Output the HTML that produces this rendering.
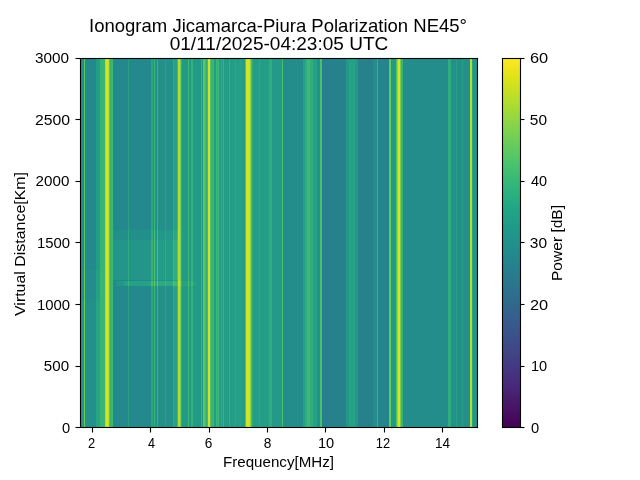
<!DOCTYPE html>
<html><head><meta charset="utf-8"><style>
html,body{margin:0;padding:0;background:#fff;width:640px;height:480px;overflow:hidden}
svg{display:block;will-change:transform}
text{font-family:"Liberation Sans", sans-serif;fill:#000}
</style></head><body>
<svg width="640" height="480" viewBox="0 0 640 480">
<defs><linearGradient id="cb" x1="0" y1="0" x2="0" y2="1"><stop offset="0.000" stop-color="#fde725"/><stop offset="0.050" stop-color="#dfe318"/><stop offset="0.100" stop-color="#bddf26"/><stop offset="0.150" stop-color="#9bd93c"/><stop offset="0.200" stop-color="#7ad151"/><stop offset="0.250" stop-color="#5ec962"/><stop offset="0.300" stop-color="#44bf70"/><stop offset="0.350" stop-color="#2fb47c"/><stop offset="0.400" stop-color="#22a884"/><stop offset="0.450" stop-color="#1e9c89"/><stop offset="0.500" stop-color="#21918c"/><stop offset="0.550" stop-color="#25848e"/><stop offset="0.600" stop-color="#2a788e"/><stop offset="0.650" stop-color="#2f6c8e"/><stop offset="0.700" stop-color="#355f8d"/><stop offset="0.750" stop-color="#3b528b"/><stop offset="0.800" stop-color="#414487"/><stop offset="0.850" stop-color="#463480"/><stop offset="0.900" stop-color="#482475"/><stop offset="0.950" stop-color="#471365"/><stop offset="1.000" stop-color="#440154"/></linearGradient></defs>
<rect x="0" y="0" width="640" height="480" fill="#fff"/>
<g shape-rendering="crispEdges"><rect x="81" y="59" width="1" height="211" fill="#238d8b"/><rect x="81" y="270" width="1" height="31" fill="#23918a"/><rect x="81" y="301" width="1" height="126" fill="#239589"/><rect x="82" y="59" width="1" height="211" fill="#238d8b"/><rect x="82" y="270" width="1" height="31" fill="#23918a"/><rect x="82" y="301" width="1" height="126" fill="#239589"/><rect x="83" y="59" width="1" height="211" fill="#238d8b"/><rect x="83" y="270" width="1" height="31" fill="#23918a"/><rect x="83" y="301" width="1" height="126" fill="#239589"/><rect x="84" y="59" width="1" height="211" fill="#5dc562"/><rect x="84" y="270" width="1" height="31" fill="#65c85d"/><rect x="84" y="301" width="1" height="126" fill="#6ecb57"/><rect x="85" y="59" width="1" height="211" fill="#24898c"/><rect x="85" y="270" width="1" height="31" fill="#238d8b"/><rect x="85" y="301" width="1" height="126" fill="#23918a"/><rect x="86" y="59" width="1" height="211" fill="#24898c"/><rect x="86" y="270" width="1" height="31" fill="#238d8b"/><rect x="86" y="301" width="1" height="126" fill="#23918a"/><rect x="87" y="59" width="1" height="211" fill="#24898c"/><rect x="87" y="270" width="1" height="31" fill="#238d8b"/><rect x="87" y="301" width="1" height="126" fill="#23918a"/><rect x="88" y="59" width="1" height="211" fill="#24898c"/><rect x="88" y="270" width="1" height="31" fill="#238d8b"/><rect x="88" y="301" width="1" height="126" fill="#23918a"/><rect x="89" y="59" width="1" height="211" fill="#24898c"/><rect x="89" y="270" width="1" height="31" fill="#238d8b"/><rect x="89" y="301" width="1" height="126" fill="#23918a"/><rect x="90" y="59" width="1" height="211" fill="#24898c"/><rect x="90" y="270" width="1" height="31" fill="#238d8b"/><rect x="90" y="301" width="1" height="126" fill="#23918a"/><rect x="91" y="59" width="1" height="211" fill="#24898c"/><rect x="91" y="270" width="1" height="31" fill="#238d8b"/><rect x="91" y="301" width="1" height="126" fill="#23918a"/><rect x="92" y="59" width="1" height="211" fill="#24898c"/><rect x="92" y="270" width="1" height="31" fill="#238d8b"/><rect x="92" y="301" width="1" height="126" fill="#23918a"/><rect x="93" y="59" width="1" height="211" fill="#24898c"/><rect x="93" y="270" width="1" height="31" fill="#238d8b"/><rect x="93" y="301" width="1" height="126" fill="#23918a"/><rect x="94" y="59" width="1" height="211" fill="#24898c"/><rect x="94" y="270" width="1" height="31" fill="#238d8b"/><rect x="94" y="301" width="1" height="126" fill="#23918a"/><rect x="95" y="59" width="1" height="211" fill="#24898c"/><rect x="95" y="270" width="1" height="31" fill="#238d8b"/><rect x="95" y="301" width="1" height="126" fill="#23918a"/><rect x="96" y="59" width="1" height="211" fill="#249d86"/><rect x="96" y="270" width="1" height="31" fill="#26a185"/><rect x="96" y="301" width="1" height="126" fill="#28a583"/><rect x="97" y="59" width="1" height="211" fill="#249d86"/><rect x="97" y="270" width="1" height="31" fill="#26a185"/><rect x="97" y="301" width="1" height="126" fill="#28a583"/><rect x="98" y="59" width="1" height="211" fill="#249d86"/><rect x="98" y="270" width="1" height="31" fill="#26a185"/><rect x="98" y="301" width="1" height="126" fill="#28a583"/><rect x="99" y="59" width="1" height="211" fill="#249d86"/><rect x="99" y="270" width="1" height="31" fill="#26a185"/><rect x="99" y="301" width="1" height="126" fill="#28a583"/><rect x="100" y="59" width="5" height="368" fill="#39b477"/><rect x="105" y="59" width="1" height="368" fill="#b6dc30"/><rect x="106" y="59" width="2" height="368" fill="#dae226"/><rect x="108" y="59" width="1" height="368" fill="#c0de2c"/><rect x="109" y="59" width="1" height="368" fill="#54c267"/><rect x="110" y="59" width="2" height="368" fill="#39b477"/><rect x="112" y="59" width="1" height="368" fill="#3fb874"/><rect x="113" y="59" width="1" height="171" fill="#24898c"/><rect x="113" y="230" width="1" height="10" fill="#238f8b"/><rect x="113" y="240" width="1" height="40" fill="#239589"/><rect x="113" y="280" width="1" height="147" fill="#24898c"/><rect x="114" y="59" width="1" height="171" fill="#24898c"/><rect x="114" y="230" width="1" height="10" fill="#238f8b"/><rect x="114" y="240" width="1" height="40" fill="#239589"/><rect x="114" y="280" width="1" height="147" fill="#24898c"/><rect x="115" y="59" width="1" height="171" fill="#24898c"/><rect x="115" y="230" width="1" height="10" fill="#238f8b"/><rect x="115" y="240" width="1" height="40" fill="#239589"/><rect x="115" y="280" width="1" height="147" fill="#24898c"/><rect x="116" y="59" width="1" height="171" fill="#24898c"/><rect x="116" y="230" width="1" height="10" fill="#238f8b"/><rect x="116" y="240" width="1" height="40" fill="#239589"/><rect x="116" y="280" width="1" height="1" fill="#24898c"/><rect x="116" y="281" width="1" height="5" fill="#239589"/><rect x="116" y="286" width="1" height="141" fill="#24898c"/><rect x="117" y="59" width="1" height="171" fill="#24898c"/><rect x="117" y="230" width="1" height="10" fill="#238f8b"/><rect x="117" y="240" width="1" height="40" fill="#239589"/><rect x="117" y="280" width="1" height="1" fill="#24898c"/><rect x="117" y="281" width="1" height="5" fill="#239589"/><rect x="117" y="286" width="1" height="141" fill="#24898c"/><rect x="118" y="59" width="1" height="171" fill="#24898c"/><rect x="118" y="230" width="1" height="10" fill="#238f8b"/><rect x="118" y="240" width="1" height="40" fill="#239589"/><rect x="118" y="280" width="1" height="1" fill="#24898c"/><rect x="118" y="281" width="1" height="5" fill="#239589"/><rect x="118" y="286" width="1" height="141" fill="#24898c"/><rect x="119" y="59" width="1" height="171" fill="#24898c"/><rect x="119" y="230" width="1" height="10" fill="#238f8b"/><rect x="119" y="240" width="1" height="40" fill="#239589"/><rect x="119" y="280" width="1" height="1" fill="#24898c"/><rect x="119" y="281" width="1" height="5" fill="#239589"/><rect x="119" y="286" width="1" height="141" fill="#24898c"/><rect x="120" y="59" width="1" height="171" fill="#24898c"/><rect x="120" y="230" width="1" height="10" fill="#238f8b"/><rect x="120" y="240" width="1" height="40" fill="#239589"/><rect x="120" y="280" width="1" height="1" fill="#24898c"/><rect x="120" y="281" width="1" height="5" fill="#239589"/><rect x="120" y="286" width="1" height="141" fill="#24898c"/><rect x="121" y="59" width="1" height="171" fill="#24898c"/><rect x="121" y="230" width="1" height="10" fill="#238f8b"/><rect x="121" y="240" width="1" height="40" fill="#239589"/><rect x="121" y="280" width="1" height="1" fill="#24898c"/><rect x="121" y="281" width="1" height="5" fill="#239589"/><rect x="121" y="286" width="1" height="141" fill="#24898c"/><rect x="122" y="59" width="1" height="171" fill="#24898c"/><rect x="122" y="230" width="1" height="10" fill="#238f8b"/><rect x="122" y="240" width="1" height="40" fill="#239589"/><rect x="122" y="280" width="1" height="1" fill="#24898c"/><rect x="122" y="281" width="1" height="5" fill="#239589"/><rect x="122" y="286" width="1" height="141" fill="#24898c"/><rect x="123" y="59" width="1" height="171" fill="#24898c"/><rect x="123" y="230" width="1" height="10" fill="#238f8b"/><rect x="123" y="240" width="1" height="40" fill="#239589"/><rect x="123" y="280" width="1" height="1" fill="#24898c"/><rect x="123" y="281" width="1" height="5" fill="#239589"/><rect x="123" y="286" width="1" height="141" fill="#24898c"/><rect x="124" y="59" width="1" height="171" fill="#24898c"/><rect x="124" y="230" width="1" height="10" fill="#238f8b"/><rect x="124" y="240" width="1" height="40" fill="#239589"/><rect x="124" y="280" width="1" height="1" fill="#24898c"/><rect x="124" y="281" width="1" height="5" fill="#26a185"/><rect x="124" y="286" width="1" height="141" fill="#24898c"/><rect x="125" y="59" width="1" height="171" fill="#24898c"/><rect x="125" y="230" width="1" height="10" fill="#238f8b"/><rect x="125" y="240" width="1" height="40" fill="#239589"/><rect x="125" y="280" width="1" height="1" fill="#24898c"/><rect x="125" y="281" width="1" height="5" fill="#26a185"/><rect x="125" y="286" width="1" height="141" fill="#24898c"/><rect x="126" y="59" width="1" height="171" fill="#24898c"/><rect x="126" y="230" width="1" height="10" fill="#238f8b"/><rect x="126" y="240" width="1" height="40" fill="#239589"/><rect x="126" y="280" width="1" height="1" fill="#24898c"/><rect x="126" y="281" width="1" height="5" fill="#26a185"/><rect x="126" y="286" width="1" height="141" fill="#24898c"/><rect x="127" y="59" width="1" height="171" fill="#24898c"/><rect x="127" y="230" width="1" height="10" fill="#238f8b"/><rect x="127" y="240" width="1" height="40" fill="#239589"/><rect x="127" y="280" width="1" height="1" fill="#24898c"/><rect x="127" y="281" width="1" height="5" fill="#26a185"/><rect x="127" y="286" width="1" height="141" fill="#24898c"/><rect x="128" y="59" width="1" height="171" fill="#26a185"/><rect x="128" y="230" width="1" height="10" fill="#2aa781"/><rect x="128" y="240" width="1" height="40" fill="#2fad7e"/><rect x="128" y="280" width="1" height="1" fill="#26a185"/><rect x="128" y="281" width="1" height="5" fill="#3fb874"/><rect x="128" y="286" width="1" height="141" fill="#26a185"/><rect x="129" y="59" width="1" height="171" fill="#24898c"/><rect x="129" y="230" width="1" height="10" fill="#238f8b"/><rect x="129" y="240" width="1" height="40" fill="#239589"/><rect x="129" y="280" width="1" height="1" fill="#24898c"/><rect x="129" y="281" width="1" height="5" fill="#26a185"/><rect x="129" y="286" width="1" height="141" fill="#24898c"/><rect x="130" y="59" width="1" height="171" fill="#24898c"/><rect x="130" y="230" width="1" height="10" fill="#238f8b"/><rect x="130" y="240" width="1" height="40" fill="#239589"/><rect x="130" y="280" width="1" height="1" fill="#24898c"/><rect x="130" y="281" width="1" height="5" fill="#26a185"/><rect x="130" y="286" width="1" height="141" fill="#24898c"/><rect x="131" y="59" width="1" height="171" fill="#24898c"/><rect x="131" y="230" width="1" height="10" fill="#238f8b"/><rect x="131" y="240" width="1" height="40" fill="#239589"/><rect x="131" y="280" width="1" height="1" fill="#24898c"/><rect x="131" y="281" width="1" height="5" fill="#26a185"/><rect x="131" y="286" width="1" height="141" fill="#24898c"/><rect x="132" y="59" width="1" height="171" fill="#24898c"/><rect x="132" y="230" width="1" height="10" fill="#238f8b"/><rect x="132" y="240" width="1" height="40" fill="#239589"/><rect x="132" y="280" width="1" height="1" fill="#24898c"/><rect x="132" y="281" width="1" height="5" fill="#26a185"/><rect x="132" y="286" width="1" height="141" fill="#24898c"/><rect x="133" y="59" width="1" height="171" fill="#24898c"/><rect x="133" y="230" width="1" height="10" fill="#238f8b"/><rect x="133" y="240" width="1" height="40" fill="#239589"/><rect x="133" y="280" width="1" height="1" fill="#24898c"/><rect x="133" y="281" width="1" height="5" fill="#26a185"/><rect x="133" y="286" width="1" height="141" fill="#24898c"/><rect x="134" y="59" width="1" height="171" fill="#24898c"/><rect x="134" y="230" width="1" height="10" fill="#238f8b"/><rect x="134" y="240" width="1" height="40" fill="#239589"/><rect x="134" y="280" width="1" height="1" fill="#24898c"/><rect x="134" y="281" width="1" height="5" fill="#26a185"/><rect x="134" y="286" width="1" height="141" fill="#24898c"/><rect x="135" y="59" width="1" height="171" fill="#24898c"/><rect x="135" y="230" width="1" height="10" fill="#238f8b"/><rect x="135" y="240" width="1" height="40" fill="#239589"/><rect x="135" y="280" width="1" height="1" fill="#24898c"/><rect x="135" y="281" width="1" height="5" fill="#26a185"/><rect x="135" y="286" width="1" height="141" fill="#24898c"/><rect x="136" y="59" width="1" height="171" fill="#24898c"/><rect x="136" y="230" width="1" height="10" fill="#238f8b"/><rect x="136" y="240" width="1" height="40" fill="#239589"/><rect x="136" y="280" width="1" height="1" fill="#24898c"/><rect x="136" y="281" width="1" height="5" fill="#26a185"/><rect x="136" y="286" width="1" height="141" fill="#24898c"/><rect x="137" y="59" width="1" height="171" fill="#24898c"/><rect x="137" y="230" width="1" height="10" fill="#238f8b"/><rect x="137" y="240" width="1" height="40" fill="#239589"/><rect x="137" y="280" width="1" height="1" fill="#24898c"/><rect x="137" y="281" width="1" height="5" fill="#26a185"/><rect x="137" y="286" width="1" height="141" fill="#24898c"/><rect x="138" y="59" width="1" height="171" fill="#24898c"/><rect x="138" y="230" width="1" height="10" fill="#238f8b"/><rect x="138" y="240" width="1" height="40" fill="#239589"/><rect x="138" y="280" width="1" height="1" fill="#24898c"/><rect x="138" y="281" width="1" height="5" fill="#26a185"/><rect x="138" y="286" width="1" height="141" fill="#24898c"/><rect x="139" y="59" width="1" height="171" fill="#24898c"/><rect x="139" y="230" width="1" height="10" fill="#238f8b"/><rect x="139" y="240" width="1" height="40" fill="#239589"/><rect x="139" y="280" width="1" height="1" fill="#24898c"/><rect x="139" y="281" width="1" height="5" fill="#26a185"/><rect x="139" y="286" width="1" height="141" fill="#24898c"/><rect x="140" y="59" width="1" height="171" fill="#24898c"/><rect x="140" y="230" width="1" height="10" fill="#238f8b"/><rect x="140" y="240" width="1" height="40" fill="#239589"/><rect x="140" y="280" width="1" height="1" fill="#24898c"/><rect x="140" y="281" width="1" height="5" fill="#26a185"/><rect x="140" y="286" width="1" height="141" fill="#24898c"/><rect x="141" y="59" width="1" height="171" fill="#24898c"/><rect x="141" y="230" width="1" height="10" fill="#238f8b"/><rect x="141" y="240" width="1" height="40" fill="#239589"/><rect x="141" y="280" width="1" height="1" fill="#24898c"/><rect x="141" y="281" width="1" height="5" fill="#26a185"/><rect x="141" y="286" width="1" height="141" fill="#24898c"/><rect x="142" y="59" width="1" height="171" fill="#24898c"/><rect x="142" y="230" width="1" height="10" fill="#238f8b"/><rect x="142" y="240" width="1" height="40" fill="#239589"/><rect x="142" y="280" width="1" height="1" fill="#24898c"/><rect x="142" y="281" width="1" height="5" fill="#26a185"/><rect x="142" y="286" width="1" height="141" fill="#24898c"/><rect x="143" y="59" width="1" height="171" fill="#24898c"/><rect x="143" y="230" width="1" height="10" fill="#238f8b"/><rect x="143" y="240" width="1" height="40" fill="#239589"/><rect x="143" y="280" width="1" height="1" fill="#24898c"/><rect x="143" y="281" width="1" height="5" fill="#26a185"/><rect x="143" y="286" width="1" height="141" fill="#24898c"/><rect x="144" y="59" width="1" height="171" fill="#24898c"/><rect x="144" y="230" width="1" height="10" fill="#238f8b"/><rect x="144" y="240" width="1" height="40" fill="#239589"/><rect x="144" y="280" width="1" height="1" fill="#24898c"/><rect x="144" y="281" width="1" height="5" fill="#26a185"/><rect x="144" y="286" width="1" height="141" fill="#24898c"/><rect x="145" y="59" width="1" height="171" fill="#24898c"/><rect x="145" y="230" width="1" height="10" fill="#238f8b"/><rect x="145" y="240" width="1" height="40" fill="#239589"/><rect x="145" y="280" width="1" height="1" fill="#24898c"/><rect x="145" y="281" width="1" height="5" fill="#26a185"/><rect x="145" y="286" width="1" height="141" fill="#24898c"/><rect x="146" y="59" width="1" height="171" fill="#24898c"/><rect x="146" y="230" width="1" height="10" fill="#238f8b"/><rect x="146" y="240" width="1" height="40" fill="#239589"/><rect x="146" y="280" width="1" height="1" fill="#24898c"/><rect x="146" y="281" width="1" height="5" fill="#26a185"/><rect x="146" y="286" width="1" height="141" fill="#24898c"/><rect x="147" y="59" width="1" height="171" fill="#24898c"/><rect x="147" y="230" width="1" height="10" fill="#238f8b"/><rect x="147" y="240" width="1" height="40" fill="#239589"/><rect x="147" y="280" width="1" height="1" fill="#24898c"/><rect x="147" y="281" width="1" height="5" fill="#26a185"/><rect x="147" y="286" width="1" height="141" fill="#24898c"/><rect x="148" y="59" width="1" height="171" fill="#24898c"/><rect x="148" y="230" width="1" height="10" fill="#238f8b"/><rect x="148" y="240" width="1" height="40" fill="#239589"/><rect x="148" y="280" width="1" height="1" fill="#24898c"/><rect x="148" y="281" width="1" height="5" fill="#26a185"/><rect x="148" y="286" width="1" height="141" fill="#24898c"/><rect x="149" y="59" width="1" height="171" fill="#24898c"/><rect x="149" y="230" width="1" height="10" fill="#238f8b"/><rect x="149" y="240" width="1" height="40" fill="#239589"/><rect x="149" y="280" width="1" height="1" fill="#24898c"/><rect x="149" y="281" width="1" height="5" fill="#26a185"/><rect x="149" y="286" width="1" height="141" fill="#24898c"/><rect x="150" y="59" width="1" height="171" fill="#24898c"/><rect x="150" y="230" width="1" height="10" fill="#238f8b"/><rect x="150" y="240" width="1" height="40" fill="#239589"/><rect x="150" y="280" width="1" height="1" fill="#24898c"/><rect x="150" y="281" width="1" height="5" fill="#26a185"/><rect x="150" y="286" width="1" height="141" fill="#24898c"/><rect x="151" y="59" width="1" height="171" fill="#28a583"/><rect x="151" y="230" width="1" height="10" fill="#2dab7f"/><rect x="151" y="240" width="1" height="40" fill="#34b17b"/><rect x="151" y="280" width="1" height="1" fill="#28a583"/><rect x="151" y="281" width="1" height="5" fill="#46bb70"/><rect x="151" y="286" width="1" height="141" fill="#28a583"/><rect x="152" y="59" width="1" height="171" fill="#28a583"/><rect x="152" y="230" width="1" height="10" fill="#2dab7f"/><rect x="152" y="240" width="1" height="40" fill="#34b17b"/><rect x="152" y="280" width="1" height="1" fill="#28a583"/><rect x="152" y="281" width="1" height="5" fill="#46bb70"/><rect x="152" y="286" width="1" height="141" fill="#28a583"/><rect x="153" y="59" width="1" height="171" fill="#23918a"/><rect x="153" y="230" width="1" height="10" fill="#239789"/><rect x="153" y="240" width="1" height="40" fill="#249d86"/><rect x="153" y="280" width="1" height="1" fill="#23918a"/><rect x="153" y="281" width="1" height="5" fill="#2ca980"/><rect x="153" y="286" width="1" height="141" fill="#23918a"/><rect x="154" y="59" width="1" height="171" fill="#39b477"/><rect x="154" y="230" width="1" height="10" fill="#42ba72"/><rect x="154" y="240" width="1" height="40" fill="#4dbf6c"/><rect x="154" y="280" width="1" height="1" fill="#39b477"/><rect x="154" y="281" width="1" height="5" fill="#65c85d"/><rect x="154" y="286" width="1" height="141" fill="#39b477"/><rect x="155" y="59" width="1" height="171" fill="#23918a"/><rect x="155" y="230" width="1" height="10" fill="#239789"/><rect x="155" y="240" width="1" height="40" fill="#249d86"/><rect x="155" y="280" width="1" height="1" fill="#23918a"/><rect x="155" y="281" width="1" height="5" fill="#2ca980"/><rect x="155" y="286" width="1" height="141" fill="#23918a"/><rect x="156" y="59" width="1" height="171" fill="#23918a"/><rect x="156" y="230" width="1" height="10" fill="#239789"/><rect x="156" y="240" width="1" height="40" fill="#249d86"/><rect x="156" y="280" width="1" height="1" fill="#23918a"/><rect x="156" y="281" width="1" height="5" fill="#2ca980"/><rect x="156" y="286" width="1" height="141" fill="#23918a"/><rect x="157" y="59" width="1" height="171" fill="#39b477"/><rect x="157" y="230" width="1" height="10" fill="#42ba72"/><rect x="157" y="240" width="1" height="40" fill="#4dbf6c"/><rect x="157" y="280" width="1" height="1" fill="#39b477"/><rect x="157" y="281" width="1" height="5" fill="#65c85d"/><rect x="157" y="286" width="1" height="141" fill="#39b477"/><rect x="158" y="59" width="1" height="171" fill="#23918a"/><rect x="158" y="230" width="1" height="10" fill="#239789"/><rect x="158" y="240" width="1" height="40" fill="#249d86"/><rect x="158" y="280" width="1" height="1" fill="#23918a"/><rect x="158" y="281" width="1" height="5" fill="#2ca980"/><rect x="158" y="286" width="1" height="141" fill="#23918a"/><rect x="159" y="59" width="1" height="171" fill="#23918a"/><rect x="159" y="230" width="1" height="10" fill="#239789"/><rect x="159" y="240" width="1" height="40" fill="#249d86"/><rect x="159" y="280" width="1" height="1" fill="#23918a"/><rect x="159" y="281" width="1" height="5" fill="#2ca980"/><rect x="159" y="286" width="1" height="141" fill="#23918a"/><rect x="160" y="59" width="1" height="171" fill="#23918a"/><rect x="160" y="230" width="1" height="10" fill="#239789"/><rect x="160" y="240" width="1" height="40" fill="#249d86"/><rect x="160" y="280" width="1" height="1" fill="#23918a"/><rect x="160" y="281" width="1" height="5" fill="#2ca980"/><rect x="160" y="286" width="1" height="141" fill="#23918a"/><rect x="161" y="59" width="1" height="171" fill="#23918a"/><rect x="161" y="230" width="1" height="10" fill="#239789"/><rect x="161" y="240" width="1" height="40" fill="#249d86"/><rect x="161" y="280" width="1" height="1" fill="#23918a"/><rect x="161" y="281" width="1" height="5" fill="#2ca980"/><rect x="161" y="286" width="1" height="141" fill="#23918a"/><rect x="162" y="59" width="1" height="171" fill="#23918a"/><rect x="162" y="230" width="1" height="10" fill="#239789"/><rect x="162" y="240" width="1" height="40" fill="#249d86"/><rect x="162" y="280" width="1" height="1" fill="#23918a"/><rect x="162" y="281" width="1" height="5" fill="#2ca980"/><rect x="162" y="286" width="1" height="141" fill="#23918a"/><rect x="163" y="59" width="1" height="171" fill="#23918a"/><rect x="163" y="230" width="1" height="10" fill="#239789"/><rect x="163" y="240" width="1" height="40" fill="#249d86"/><rect x="163" y="280" width="1" height="1" fill="#23918a"/><rect x="163" y="281" width="1" height="5" fill="#2ca980"/><rect x="163" y="286" width="1" height="141" fill="#23918a"/><rect x="164" y="59" width="1" height="171" fill="#23918a"/><rect x="164" y="230" width="1" height="10" fill="#239789"/><rect x="164" y="240" width="1" height="40" fill="#249d86"/><rect x="164" y="280" width="1" height="1" fill="#23918a"/><rect x="164" y="281" width="1" height="5" fill="#2ca980"/><rect x="164" y="286" width="1" height="141" fill="#23918a"/><rect x="165" y="59" width="1" height="171" fill="#26a185"/><rect x="165" y="230" width="1" height="10" fill="#2aa781"/><rect x="165" y="240" width="1" height="40" fill="#2fad7e"/><rect x="165" y="280" width="1" height="1" fill="#26a185"/><rect x="165" y="281" width="1" height="5" fill="#3fb874"/><rect x="165" y="286" width="1" height="141" fill="#26a185"/><rect x="166" y="59" width="1" height="171" fill="#23918a"/><rect x="166" y="230" width="1" height="10" fill="#239789"/><rect x="166" y="240" width="1" height="40" fill="#249d86"/><rect x="166" y="280" width="1" height="1" fill="#23918a"/><rect x="166" y="281" width="1" height="5" fill="#2ca980"/><rect x="166" y="286" width="1" height="141" fill="#23918a"/><rect x="167" y="59" width="1" height="171" fill="#23918a"/><rect x="167" y="230" width="1" height="10" fill="#239789"/><rect x="167" y="240" width="1" height="40" fill="#249d86"/><rect x="167" y="280" width="1" height="1" fill="#23918a"/><rect x="167" y="281" width="1" height="5" fill="#2ca980"/><rect x="167" y="286" width="1" height="141" fill="#23918a"/><rect x="168" y="59" width="1" height="171" fill="#23918a"/><rect x="168" y="230" width="1" height="10" fill="#239789"/><rect x="168" y="240" width="1" height="40" fill="#249d86"/><rect x="168" y="280" width="1" height="1" fill="#23918a"/><rect x="168" y="281" width="1" height="5" fill="#2ca980"/><rect x="168" y="286" width="1" height="141" fill="#23918a"/><rect x="169" y="59" width="1" height="171" fill="#23918a"/><rect x="169" y="230" width="1" height="10" fill="#239789"/><rect x="169" y="240" width="1" height="40" fill="#249d86"/><rect x="169" y="280" width="1" height="1" fill="#23918a"/><rect x="169" y="281" width="1" height="5" fill="#2ca980"/><rect x="169" y="286" width="1" height="141" fill="#23918a"/><rect x="170" y="59" width="1" height="171" fill="#23918a"/><rect x="170" y="230" width="1" height="10" fill="#239789"/><rect x="170" y="240" width="1" height="40" fill="#249d86"/><rect x="170" y="280" width="1" height="1" fill="#23918a"/><rect x="170" y="281" width="1" height="5" fill="#2ca980"/><rect x="170" y="286" width="1" height="141" fill="#23918a"/><rect x="171" y="59" width="1" height="171" fill="#23918a"/><rect x="171" y="230" width="1" height="10" fill="#239789"/><rect x="171" y="240" width="1" height="40" fill="#249d86"/><rect x="171" y="280" width="1" height="1" fill="#23918a"/><rect x="171" y="281" width="1" height="5" fill="#2ca980"/><rect x="171" y="286" width="1" height="141" fill="#23918a"/><rect x="172" y="59" width="1" height="171" fill="#23918a"/><rect x="172" y="230" width="1" height="10" fill="#239789"/><rect x="172" y="240" width="1" height="40" fill="#249d86"/><rect x="172" y="280" width="1" height="1" fill="#23918a"/><rect x="172" y="281" width="1" height="5" fill="#2ca980"/><rect x="172" y="286" width="1" height="141" fill="#23918a"/><rect x="173" y="59" width="1" height="171" fill="#2fad7e"/><rect x="173" y="230" width="1" height="10" fill="#36b279"/><rect x="173" y="240" width="1" height="40" fill="#3fb874"/><rect x="173" y="280" width="1" height="1" fill="#2fad7e"/><rect x="173" y="281" width="1" height="5" fill="#54c267"/><rect x="173" y="286" width="1" height="141" fill="#2fad7e"/><rect x="174" y="59" width="1" height="171" fill="#26a185"/><rect x="174" y="230" width="1" height="10" fill="#2aa781"/><rect x="174" y="240" width="1" height="40" fill="#2fad7e"/><rect x="174" y="280" width="1" height="1" fill="#26a185"/><rect x="174" y="281" width="1" height="5" fill="#3fb874"/><rect x="174" y="286" width="1" height="141" fill="#26a185"/><rect x="175" y="59" width="1" height="171" fill="#26a185"/><rect x="175" y="230" width="1" height="10" fill="#2aa781"/><rect x="175" y="240" width="1" height="40" fill="#2fad7e"/><rect x="175" y="280" width="1" height="1" fill="#26a185"/><rect x="175" y="281" width="1" height="5" fill="#3fb874"/><rect x="175" y="286" width="1" height="141" fill="#26a185"/><rect x="176" y="59" width="1" height="171" fill="#26a185"/><rect x="176" y="230" width="1" height="10" fill="#2aa781"/><rect x="176" y="240" width="1" height="40" fill="#2fad7e"/><rect x="176" y="280" width="1" height="1" fill="#26a185"/><rect x="176" y="281" width="1" height="5" fill="#3fb874"/><rect x="176" y="286" width="1" height="141" fill="#26a185"/><rect x="177" y="59" width="1" height="171" fill="#3fb874"/><rect x="177" y="230" width="1" height="10" fill="#49bd6e"/><rect x="177" y="240" width="1" height="40" fill="#54c267"/><rect x="177" y="280" width="1" height="1" fill="#3fb874"/><rect x="177" y="281" width="1" height="5" fill="#4dbf6c"/><rect x="177" y="286" width="1" height="141" fill="#3fb874"/><rect x="178" y="59" width="1" height="222" fill="#b6dc30"/><rect x="178" y="281" width="1" height="5" fill="#cadf2a"/><rect x="178" y="286" width="1" height="141" fill="#b6dc30"/><rect x="179" y="59" width="1" height="222" fill="#b6dc30"/><rect x="179" y="281" width="1" height="5" fill="#cadf2a"/><rect x="179" y="286" width="1" height="141" fill="#b6dc30"/><rect x="180" y="59" width="1" height="222" fill="#78ce52"/><rect x="180" y="281" width="1" height="5" fill="#8cd345"/><rect x="180" y="286" width="1" height="141" fill="#78ce52"/><rect x="181" y="59" width="1" height="222" fill="#2fad7e"/><rect x="181" y="281" width="1" height="5" fill="#39b477"/><rect x="181" y="286" width="1" height="141" fill="#2fad7e"/><rect x="182" y="59" width="1" height="222" fill="#239988"/><rect x="182" y="281" width="1" height="5" fill="#26a185"/><rect x="182" y="286" width="1" height="141" fill="#239988"/><rect x="183" y="59" width="1" height="222" fill="#239988"/><rect x="183" y="281" width="1" height="5" fill="#26a185"/><rect x="183" y="286" width="1" height="141" fill="#239988"/><rect x="184" y="59" width="1" height="222" fill="#239988"/><rect x="184" y="281" width="1" height="5" fill="#26a185"/><rect x="184" y="286" width="1" height="141" fill="#239988"/><rect x="185" y="59" width="1" height="222" fill="#239988"/><rect x="185" y="281" width="1" height="5" fill="#26a185"/><rect x="185" y="286" width="1" height="141" fill="#239988"/><rect x="186" y="59" width="1" height="222" fill="#239988"/><rect x="186" y="281" width="1" height="5" fill="#26a185"/><rect x="186" y="286" width="1" height="141" fill="#239988"/><rect x="187" y="59" width="1" height="222" fill="#239988"/><rect x="187" y="281" width="1" height="5" fill="#26a185"/><rect x="187" y="286" width="1" height="141" fill="#239988"/><rect x="188" y="59" width="1" height="222" fill="#3fb874"/><rect x="188" y="281" width="1" height="5" fill="#4dbf6c"/><rect x="188" y="286" width="1" height="141" fill="#3fb874"/><rect x="189" y="59" width="1" height="222" fill="#239988"/><rect x="189" y="281" width="1" height="5" fill="#26a185"/><rect x="189" y="286" width="1" height="141" fill="#239988"/><rect x="190" y="59" width="1" height="222" fill="#239988"/><rect x="190" y="281" width="1" height="5" fill="#26a185"/><rect x="190" y="286" width="1" height="141" fill="#239988"/><rect x="191" y="59" width="1" height="222" fill="#34b17b"/><rect x="191" y="281" width="1" height="5" fill="#3fb874"/><rect x="191" y="286" width="1" height="141" fill="#34b17b"/><rect x="192" y="59" width="1" height="222" fill="#34b17b"/><rect x="192" y="281" width="1" height="5" fill="#3fb874"/><rect x="192" y="286" width="1" height="141" fill="#34b17b"/><rect x="193" y="59" width="1" height="222" fill="#239988"/><rect x="193" y="281" width="1" height="5" fill="#26a185"/><rect x="193" y="286" width="1" height="141" fill="#239988"/><rect x="194" y="59" width="1" height="222" fill="#239988"/><rect x="194" y="281" width="1" height="5" fill="#26a185"/><rect x="194" y="286" width="1" height="141" fill="#239988"/><rect x="195" y="59" width="1" height="222" fill="#239988"/><rect x="195" y="281" width="1" height="5" fill="#26a185"/><rect x="195" y="286" width="1" height="141" fill="#239988"/><rect x="196" y="59" width="5" height="368" fill="#239988"/><rect x="201" y="59" width="1" height="368" fill="#39b477"/><rect x="202" y="59" width="1" height="368" fill="#249d86"/><rect x="203" y="59" width="2" height="368" fill="#5dc562"/><rect x="205" y="59" width="1" height="368" fill="#46bb70"/><rect x="206" y="59" width="1" height="368" fill="#2fad7e"/><rect x="207" y="59" width="1" height="368" fill="#46bb70"/><rect x="208" y="59" width="2" height="368" fill="#d3e128"/><rect x="210" y="59" width="1" height="368" fill="#54c267"/><rect x="211" y="59" width="3" height="368" fill="#39b477"/><rect x="214" y="59" width="2" height="368" fill="#249d86"/><rect x="216" y="59" width="3" height="368" fill="#39b477"/><rect x="219" y="59" width="2" height="368" fill="#249d86"/><rect x="221" y="59" width="1" height="368" fill="#2fad7e"/><rect x="222" y="59" width="1" height="368" fill="#249d86"/><rect x="223" y="59" width="1" height="368" fill="#39b477"/><rect x="224" y="59" width="5" height="368" fill="#249d86"/><rect x="229" y="59" width="1" height="368" fill="#34b17b"/><rect x="230" y="59" width="5" height="368" fill="#249d86"/><rect x="235" y="59" width="1" height="368" fill="#2ca980"/><rect x="236" y="59" width="2" height="368" fill="#249d86"/><rect x="238" y="59" width="4" height="368" fill="#26a185"/><rect x="242" y="59" width="3" height="368" fill="#249d86"/><rect x="245" y="59" width="1" height="368" fill="#54c267"/><rect x="246" y="59" width="4" height="368" fill="#d3e128"/><rect x="250" y="59" width="1" height="368" fill="#8cd345"/><rect x="251" y="59" width="1" height="368" fill="#46bb70"/><rect x="252" y="59" width="1" height="368" fill="#2fad7e"/><rect x="253" y="59" width="6" height="368" fill="#249d86"/><rect x="259" y="59" width="1" height="368" fill="#2ca980"/><rect x="260" y="59" width="9" height="368" fill="#249d86"/><rect x="269" y="59" width="3" height="368" fill="#2fad7e"/><rect x="272" y="59" width="10" height="368" fill="#239988"/><rect x="282" y="59" width="1" height="368" fill="#4dbf6c"/><rect x="283" y="59" width="20" height="368" fill="#238d8b"/><rect x="303" y="59" width="2" height="368" fill="#26a185"/><rect x="305" y="59" width="2" height="368" fill="#2fad7e"/><rect x="307" y="59" width="3" height="368" fill="#3fb874"/><rect x="310" y="59" width="3" height="368" fill="#2fad7e"/><rect x="313" y="59" width="4" height="368" fill="#26a185"/><rect x="317" y="59" width="3" height="368" fill="#23918a"/><rect x="320" y="59" width="2" height="368" fill="#4dbf6c"/><rect x="322" y="59" width="24" height="368" fill="#27818d"/><rect x="346" y="59" width="3" height="368" fill="#239988"/><rect x="349" y="59" width="6" height="368" fill="#26a185"/><rect x="355" y="59" width="3" height="368" fill="#239988"/><rect x="358" y="59" width="15" height="368" fill="#27818d"/><rect x="373" y="59" width="4" height="368" fill="#238d8b"/><rect x="377" y="59" width="1" height="368" fill="#39b477"/><rect x="378" y="59" width="11" height="368" fill="#25858d"/><rect x="389" y="59" width="2" height="368" fill="#65c85d"/><rect x="391" y="59" width="5" height="368" fill="#239988"/><rect x="396" y="59" width="1" height="368" fill="#54c267"/><rect x="397" y="59" width="1" height="368" fill="#8cd345"/><rect x="398" y="59" width="2" height="368" fill="#dae226"/><rect x="400" y="59" width="1" height="368" fill="#78ce52"/><rect x="401" y="59" width="2" height="368" fill="#39b477"/><rect x="403" y="59" width="45" height="368" fill="#238d8b"/><rect x="448" y="59" width="3" height="368" fill="#2fad7e"/><rect x="451" y="59" width="5" height="368" fill="#23918a"/><rect x="456" y="59" width="1" height="368" fill="#26a185"/><rect x="457" y="59" width="5" height="368" fill="#23918a"/><rect x="462" y="59" width="1" height="368" fill="#26a185"/><rect x="463" y="59" width="7" height="368" fill="#23918a"/><rect x="470" y="59" width="2" height="368" fill="#b6dc30"/><rect x="472" y="59" width="1" height="368" fill="#28a583"/><rect x="473" y="59" width="4" height="368" fill="#239589"/></g>
<rect x="503" y="59" width="17" height="368" fill="url(#cb)" shape-rendering="crispEdges"/>
<g fill="none" stroke="#000" stroke-width="1.1">
<rect x="80.5" y="58.5" width="397" height="369"/>
<rect x="502.5" y="58.5" width="18" height="369"/>
<line x1="75.5" y1="427.5" x2="80" y2="427.5"/><line x1="520" y1="427.5" x2="524.5" y2="427.5"/><line x1="75.5" y1="366.5" x2="80" y2="366.5"/><line x1="520" y1="366.5" x2="524.5" y2="366.5"/><line x1="75.5" y1="304.5" x2="80" y2="304.5"/><line x1="520" y1="304.5" x2="524.5" y2="304.5"/><line x1="75.5" y1="242.5" x2="80" y2="242.5"/><line x1="520" y1="242.5" x2="524.5" y2="242.5"/><line x1="75.5" y1="181.5" x2="80" y2="181.5"/><line x1="520" y1="181.5" x2="524.5" y2="181.5"/><line x1="75.5" y1="119.5" x2="80" y2="119.5"/><line x1="520" y1="119.5" x2="524.5" y2="119.5"/><line x1="75.5" y1="58.5" x2="80" y2="58.5"/><line x1="520" y1="58.5" x2="524.5" y2="58.5"/><line x1="92.5" y1="427" x2="92.5" y2="432.5"/><line x1="150.5" y1="427" x2="150.5" y2="432.5"/><line x1="209.5" y1="427" x2="209.5" y2="432.5"/><line x1="267.5" y1="427" x2="267.5" y2="432.5"/><line x1="325.5" y1="427" x2="325.5" y2="432.5"/><line x1="384.5" y1="427" x2="384.5" y2="432.5"/><line x1="442.5" y1="427" x2="442.5" y2="432.5"/>
</g>
<text x="66.00" y="433.00" font-size="14.60" text-anchor="middle" textLength="8.17" lengthAdjust="spacingAndGlyphs">0</text><text x="56.50" y="371.00" font-size="14.60" text-anchor="middle" textLength="25.24" lengthAdjust="spacingAndGlyphs">500</text><text x="53.50" y="310.00" font-size="14.60" text-anchor="middle" textLength="33.10" lengthAdjust="spacingAndGlyphs">1000</text><text x="53.50" y="248.00" font-size="14.60" text-anchor="middle" textLength="33.10" lengthAdjust="spacingAndGlyphs">1500</text><text x="52.50" y="186.00" font-size="14.60" text-anchor="middle" textLength="33.78" lengthAdjust="spacingAndGlyphs">2000</text><text x="52.50" y="125.00" font-size="14.60" text-anchor="middle" textLength="35.13" lengthAdjust="spacingAndGlyphs">2500</text><text x="52.00" y="63.00" font-size="14.60" text-anchor="middle" textLength="34.10" lengthAdjust="spacingAndGlyphs">3000</text><text x="91.50" y="448.00" font-size="14.60" text-anchor="middle" textLength="7.20" lengthAdjust="spacingAndGlyphs">2</text><text x="151.50" y="448.00" font-size="14.60" text-anchor="middle" textLength="7.00" lengthAdjust="spacingAndGlyphs">4</text><text x="208.50" y="448.00" font-size="14.60" text-anchor="middle" textLength="7.62" lengthAdjust="spacingAndGlyphs">6</text><text x="267.50" y="448.00" font-size="14.60" text-anchor="middle" textLength="7.62" lengthAdjust="spacingAndGlyphs">8</text><text x="326.00" y="448.00" font-size="14.60" text-anchor="middle" textLength="16.24" lengthAdjust="spacingAndGlyphs">10</text><text x="383.00" y="448.00" font-size="14.60" text-anchor="middle" textLength="14.35" lengthAdjust="spacingAndGlyphs">12</text><text x="442.50" y="448.00" font-size="14.60" text-anchor="middle" textLength="15.08" lengthAdjust="spacingAndGlyphs">14</text><text x="535.00" y="433.00" font-size="14.60" text-anchor="middle" textLength="8.17" lengthAdjust="spacingAndGlyphs">0</text><text x="539.00" y="371.00" font-size="14.60" text-anchor="middle" textLength="16.24" lengthAdjust="spacingAndGlyphs">10</text><text x="539.00" y="310.00" font-size="14.60" text-anchor="middle" textLength="18.20" lengthAdjust="spacingAndGlyphs">20</text><text x="538.50" y="248.00" font-size="14.60" text-anchor="middle" textLength="17.22" lengthAdjust="spacingAndGlyphs">30</text><text x="539.00" y="186.00" font-size="14.60" text-anchor="middle" textLength="16.07" lengthAdjust="spacingAndGlyphs">40</text><text x="538.50" y="125.00" font-size="14.60" text-anchor="middle" textLength="17.22" lengthAdjust="spacingAndGlyphs">50</text><text x="539.00" y="63.00" font-size="14.60" text-anchor="middle" textLength="18.20" lengthAdjust="spacingAndGlyphs">60</text><text x="278.00" y="31.50" font-size="17.80" text-anchor="middle" textLength="378.02" lengthAdjust="spacingAndGlyphs">Ionogram Jicamarca-Piura Polarization NE45°</text><text x="279.00" y="50.00" font-size="17.80" text-anchor="middle" textLength="218.64" lengthAdjust="spacingAndGlyphs">01/11/2025-04:23:05 UTC</text><text x="278.50" y="467.00" font-size="14.60" text-anchor="middle" textLength="111.04" lengthAdjust="spacingAndGlyphs">Frequency[MHz]</text><g transform="translate(25.00,244.00) rotate(-90)"><text x="0" y="0" font-size="14.60" text-anchor="middle" textLength="144.01" lengthAdjust="spacingAndGlyphs">Virtual Distance[Km]</text></g><g transform="translate(562.00,243.00) rotate(-90)"><text x="0" y="0" font-size="14.60" text-anchor="middle" textLength="76.06" lengthAdjust="spacingAndGlyphs">Power [dB]</text></g>
</svg>
</body></html>
